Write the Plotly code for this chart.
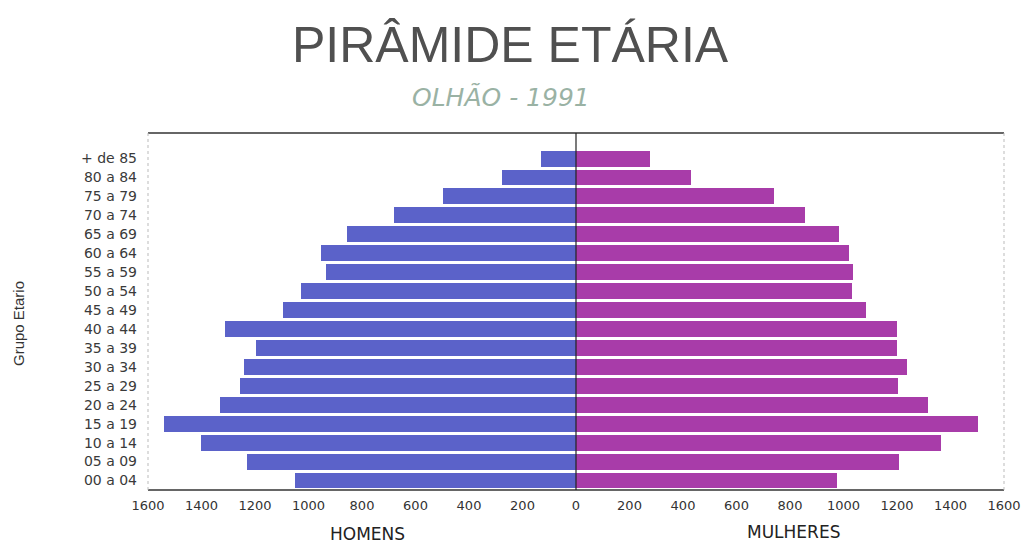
import plotly.graph_objects as go

age_groups = ["00 a 04", "05 a 09", "10 a 14", "15 a 19", "20 a 24", "25 a 29",
              "30 a 34", "35 a 39", "40 a 44", "45 a 49", "50 a 54", "55 a 59",
              "60 a 64", "65 a 69", "70 a 74", "75 a 79", "80 a 84", "+ de 85"]
homens = [1050, 1230, 1402, 1540, 1331, 1256, 1241, 1196, 1312, 1095, 1028, 935,
          953, 856, 680, 497, 277, 131]
mulheres = [976, 1207, 1364, 1503, 1316, 1204, 1237, 1200, 1200, 1084, 1032, 1035,
            1020, 983, 856, 740, 430, 277]
tick_vals = [-1600, -1400, -1200, -1000, -800, -600, -400, -200, 0,
             200, 400, 600, 800, 1000, 1200, 1400, 1600]
tick_text = ["1600", "1400", "1200", "1000", "800", "600", "400", "200", "0",
             "200", "400", "600", "800", "1000", "1200", "1400", "1600"]

fig = go.Figure()
fig.add_trace(go.Bar(y=list(range(len(age_groups))), x=[-v for v in homens],
                     orientation="h", marker=dict(color="#5b62c9", line=dict(width=0)),
                     width=0.84, name="Homens"))
fig.add_trace(go.Bar(y=list(range(len(age_groups))), x=mulheres,
                     orientation="h", marker=dict(color="#a83ca9", line=dict(width=0)),
                     width=0.84, name="Mulheres"))

fig.update_layout(
    width=1025, height=546,
    margin=dict(l=148, r=21, t=133, b=56),
    paper_bgcolor="white", plot_bgcolor="white",
    barmode="overlay", bargap=0, showlegend=False,
    font=dict(family="DejaVu Sans, Liberation Sans, Arial, sans-serif", color="#333"),
    xaxis=dict(range=[-1600, 1600], tickvals=tick_vals, ticktext=tick_text,
               showgrid=False, zeroline=False, showline=False, automargin=False,
               tickfont=dict(size=13, color="#333"), ticks="", ticklabelstandoff=6,
               fixedrange=True),
    yaxis=dict(range=[-0.5, 18.35], tickvals=list(range(len(age_groups))),
               ticktext=age_groups, showgrid=False, zeroline=False, showline=False,
               automargin=False,
               tickfont=dict(size=14, color="#3a3a3a"), ticks="", ticklabelstandoff=10,
               fixedrange=True),
)

# frame
fig.add_shape(type="line", xref="paper", yref="paper", x0=0, x1=1, y0=1, y1=1,
              line=dict(color="#333", width=1.5))
fig.add_shape(type="line", xref="paper", yref="paper", x0=0, x1=1, y0=0, y1=0,
              line=dict(color="#333", width=1.5))
fig.add_shape(type="line", xref="paper", yref="paper", x0=0, x1=0, y0=0, y1=1,
              line=dict(color="#bbb", width=1, dash="dot"))
fig.add_shape(type="line", xref="paper", yref="paper", x0=1, x1=1, y0=0, y1=1,
              line=dict(color="#bbb", width=1, dash="dot"))
fig.add_shape(type="line", xref="x", yref="paper", x0=0, x1=0, y0=0, y1=1,
              line=dict(color="#222", width=1.2), layer="above")

# titles
fig.add_annotation(text="PIRÂMIDE ETÁRIA", xref="paper", yref="paper",
                   x=(510 - 148) / 856, y=1 + (133 - 45) / 357,
                   xanchor="center", yanchor="middle", showarrow=False,
                   font=dict(size=50, color="#505050", family="Liberation Sans, Arial, sans-serif"))
fig.add_annotation(text="<i>OLHÃO - 1991</i>", xref="paper", yref="paper",
                   x=(501 - 148) / 856, y=1 + (133 - 97) / 357,
                   xanchor="center", yanchor="middle", showarrow=False,
                   font=dict(size=25, color="#9ab2a4", family="DejaVu Sans, sans-serif"))
fig.add_annotation(text="HOMENS", xref="paper", yref="paper",
                   x=(367 - 148) / 856, y=-(534 - 490) / 357,
                   xanchor="center", yanchor="middle", showarrow=False,
                   font=dict(size=17, color="#222"))
fig.add_annotation(text="MULHERES", xref="paper", yref="paper",
                   x=(793 - 148) / 856, y=-(532 - 490) / 357,
                   xanchor="center", yanchor="middle", showarrow=False,
                   font=dict(size=17, color="#222"))
fig.add_annotation(text="Grupo Etario", xref="paper", yref="paper",
                   x=-(148 - 18) / 856, y=(490 - 324) / 357, textangle=-90,
                   xanchor="center", yanchor="middle", showarrow=False,
                   font=dict(size=15, color="#333", family="Liberation Sans, Arial, sans-serif"))

fig.write_html("out.html")
